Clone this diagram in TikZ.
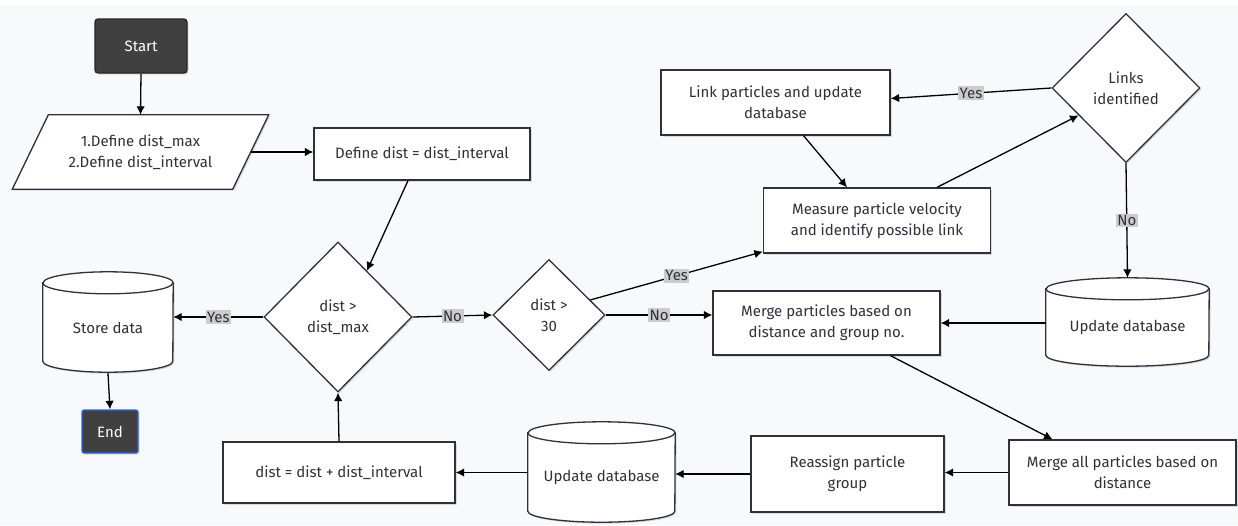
\documentclass[tikz,border=0pt]{standalone}
\usepackage{fontspec}
\setmainfont{Fira Sans}
\usetikzlibrary{arrows.meta,shapes.geometric,backgrounds,shadows}
\pgfdeclarelayer{back0}
\pgfsetlayers{back0,background,main}
\definecolor{bgc}{HTML}{F8F9FA}
\definecolor{ink}{HTML}{30303C}
\definecolor{lblc}{HTML}{CCCCCC}
\definecolor{darkbox}{HTML}{404040}
\definecolor{endblue}{HTML}{2E62E8}
\tikzset{
  shad/.style={drop shadow={shadow xshift=1.5pt, shadow yshift=-1.5pt, opacity=0.12, fill=black}},
  txt/.style={text=ink, align=center, font=\fontsize{15}{21}\selectfont},
  box/.style={txt, draw=ink, line width=1.3pt, fill=white, inner sep=0pt, shad},
  plain/.style={txt, inner sep=0pt},
  dia/.style={txt, shape=diamond, draw=ink, line width=1.3pt, fill=white, inner sep=0pt, shad},
  termbox/.style={txt, text=white, fill=darkbox, inner sep=0pt, line width=1.3pt, shad},
  shp/.style={draw=ink, line width=1.3pt, fill=white},
  arr/.style={draw=black, line width=1.3pt, -{Latex[length=8.5pt,width=8.5pt]}},
  lab/.style={txt, fill=lblc, inner sep=1.5pt, pos=0.5},
}
\newcommand\cylshape[3]{%
  \path[shp, shad] (#1.north west) -- ([yshift=#3]#1.south west)
    arc[start angle=180,end angle=360,x radius=#2,y radius=#3]
    -- (#1.north east)
    arc[start angle=0,end angle=180,x radius=#2,y radius=#3] -- cycle;
  \draw[draw=ink, line width=1.3pt] (#1.north west)
    arc[start angle=180,end angle=360,x radius=#2,y radius=#3];}
\begin{document}
\begin{tikzpicture}[x=1pt,y=-1pt]
\begin{pgfonlayer}{back0}
  \fill[white] (0,0) rectangle (1238,525);
  \fill[bgc] (0,5) rectangle (1238,525);
\end{pgfonlayer}
\useasboundingbox (0,0) rectangle (1238,525);

% nodes
\node[termbox, draw=black!85, rounded corners=3pt, minimum width=92pt, minimum height=54pt] (start) at (141,46) {Start};
\node[plain, minimum width=220pt, minimum height=74pt] (par) at (140.5,152) {1.Define dist\_max\\2.Define dist\_interval};
\node[box, minimum width=216pt, minimum height=52pt] (def) at (422,154) {Define dist = dist\_interval};
\node[dia, minimum width=148pt, minimum height=150pt] (d1) at (338,317) {dist >\\dist\_max};
\node[dia, minimum width=112pt, minimum height=111pt] (d2) at (549,315) {dist >\\30};
\node[plain, minimum width=130pt, minimum height=89pt] (store) at (108,327.5) {Store data};
\node[termbox, draw=endblue, rounded corners=2pt, minimum width=56pt, minimum height=43pt] (end) at (110,431.5) {End};
\node[box, minimum width=232pt, minimum height=61pt] (dbox) at (339,472.5) {dist = dist + dist\_interval};
\node[plain, minimum width=147pt, minimum height=89pt] (udb2) at (601.5,477.5) {Update database};
\node[box, minimum width=193pt, minimum height=76pt] (reas) at (847.5,474) {Reassign particle\\group};
\node[box, minimum width=227pt, minimum height=65pt] (mall) at (1122.5,472.5) {Merge all particles based on\\distance};
\node[box, minimum width=227pt, minimum height=64pt] (merge) at (826.5,323) {Merge particles based on\\distance and group no.};
\node[plain, minimum width=163pt, minimum height=77pt] (updb) at (1127.5,327.5) {Update database};
\node[box, minimum width=227pt, minimum height=65pt] (meas) at (877,220.5) {Measure particle velocity\\and identify possible link};
\node[box, minimum width=229pt, minimum height=65pt] (link) at (775.5,102.5) {Link particles and update\\database};
\node[dia, minimum width=148pt, minimum height=149pt] (links) at (1126,88) {Links\\identified};

% outlines drawn behind texts
\begin{pgfonlayer}{background}
  \path[shp, shad] ([xshift=18pt]par.north west) -- ([xshift=18pt]par.north east)
    -- ([xshift=-18pt]par.south east) -- ([xshift=-18pt]par.south west) -- cycle;
  \cylshape{store}{65pt}{11pt}
  \cylshape{udb2}{73.5pt}{11pt}
  \cylshape{updb}{81.5pt}{11pt}
\end{pgfonlayer}

% connectors
\draw[arr] (start.south) -- (par.north);
\draw[arr] (par.east) -- (par.east -| def.west);
\draw[arr] ([xshift=-14pt]def.south) -- (d1.58);
\draw[arr] (d1.west) -- (d1.west -| store.east) node[lab] {Yes};
\draw[arr] ([yshift=-1pt]store.south) -- (end.north);
\draw[arr] (d1.east) -- (d2.west) node[lab] {No};
\draw[arr] (d2.20) -- ([yshift=2pt]meas.south west) node[lab] {Yes};
\draw[arr] (d2.east) -- (d2.east -| merge.west) node[lab] {No};
\draw[arr] ([xshift=28pt]link.south) -- ([xshift=-30pt]meas.north);
\draw[arr] ([xshift=60pt]meas.north) -- (links.210);
\draw[arr] (links.west) -- ([yshift=4pt]link.east) node[lab] {Yes};
\draw[arr] (links.south) -- ([yshift=11pt]updb.north) node[lab] {No};
\draw[arr] (updb.west |- merge.east) -- (merge.east);
\draw[arr] ([xshift=64pt]merge.south) -- ([xshift=-70pt]mall.north);
\draw[arr] (mall.west) -- (mall.west -| reas.east);
\draw[arr] (reas.west) -- (reas.west -| udb2.east);
\draw[arr] (udb2.west |- dbox.east) -- (dbox.east);
\draw[arr] (dbox.north) -- (d1.south);
\end{tikzpicture}
\end{document}
